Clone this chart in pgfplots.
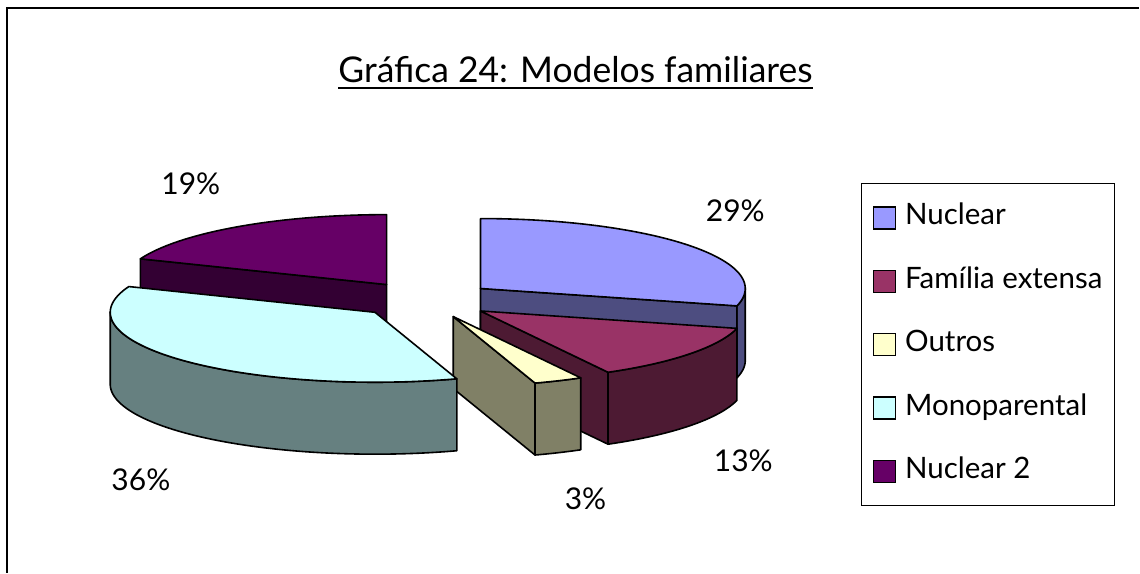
\documentclass[border=0pt]{standalone}
\usepackage{fontspec}
\setmainfont{Lato}
\usepackage{pgfplots}
\pgfplotsset{compat=1.18}

\definecolor{cNuc}{HTML}{9999FF}
\definecolor{cNucS}{HTML}{4D4D80}
\definecolor{cFam}{HTML}{993366}
\definecolor{cFamS}{HTML}{4D1A33}
\definecolor{cOut}{HTML}{FFFFCC}
\definecolor{cOutS}{HTML}{808066}
\definecolor{cMon}{HTML}{CCFFFF}
\definecolor{cMonS}{HTML}{668080}
\definecolor{cNdos}{HTML}{660066}
\definecolor{cNdosS}{HTML}{330033}

% data (percent)
\def\vNuc{29}\def\vFam{13}\def\vOut{3}\def\vMon{36}\def\vNdos{19}

% pie geometry (pixels)
\def\CX{426}\def\CY{300}\def\RR{265}\def\rr{70}\def\EX{69.5}\def\HH{72}

\pgfmathsetmacro{\aA}{0}
\pgfmathsetmacro{\aB}{\aA+3.6*\vNuc}
\pgfmathsetmacro{\aC}{\aB+3.6*\vFam}
\pgfmathsetmacro{\aD}{\aC+3.6*\vOut}
\pgfmathsetmacro{\aE}{\aD+3.6*\vMon}
\pgfmathsetmacro{\aF}{\aE+3.6*\vNdos}

\newcommand{\slicecenter}[4]{%
  \pgfmathsetmacro#3{\CX+\EX*sin((#1+#2)/2)}%
  \pgfmathsetmacro#4{\CY-\EX*\rr/\RR*cos((#1+#2)/2)}}

\slicecenter{\aA}{\aB}{\xA}{\yA}
\slicecenter{\aB}{\aC}{\xB}{\yB}
\slicecenter{\aC}{\aD}{\xC}{\yC}
\slicecenter{\aD}{\aE}{\xD}{\yD}
\slicecenter{\aE}{\aF}{\xE}{\yE}

\newcommand{\topface}[5]{%
\addplot[forget plot, fill=#5, draw=black, line width=1.6pt, line join=round, domain=0:1.1, samples=111]
 ({#1 + (x<1 ? \RR*sin(#3+(#4-#3)*x) : \RR*sin(#4)*(1-(x-1)*10))},
  {#2 - (x<1 ? \rr*cos(#3+(#4-#3)*x) : \rr*cos(#4)*(1-(x-1)*10))}) -- cycle;}

\newcommand{\sideface}[5]{%
\addplot[forget plot, fill=#5, draw=black, line width=1.6pt, line join=round, domain=0:2.1, samples=211]
 ({#1 + \RR*sin( x<1 ? #3+(#4-#3)*x : (x<1.1 ? #4 : #4-(#4-#3)*(x-1.1)) )},
  {#2 - \rr*cos( x<1 ? #3+(#4-#3)*x : (x<1.1 ? #4 : #4-(#4-#3)*(x-1.1)) ) + (x<1 ? 0 : (x<1.1 ? \HH*(x-1)*10 : \HH))}) -- cycle;}

\newcommand{\radface}[4]{%
\addplot[forget plot, fill=#4, draw=black, line width=1.6pt, line join=round, domain=0:3, samples=4]
 ({#1 + (x>0.5)*(x<2.5)*\RR*sin(#3)},
  {#2 - (x>0.5)*(x<2.5)*\rr*cos(#3) + (x>1.5)*\HH}) -- cycle;}

\begin{document}
\begin{tikzpicture}
\begin{axis}[
  width=1140pt, height=573pt, scale only axis,
  xmin=0, xmax=1140, ymin=0, ymax=573, y dir=reverse,
  enlargelimits=false, hide axis, clip=false,
  legend image code/.code={\draw[#1, line width=1.4pt] (0pt,-11pt) rectangle (22pt,11pt);},
  legend style={at={(axis cs:862,183.5)}, anchor=north west, draw=black, line width=1pt,
    font=\fontsize{29.5}{34}\selectfont, inner xsep=11pt, inner ysep=19pt,
    row sep=33.5pt, column sep=8pt,
    nodes={inner sep=1pt, text height=21pt, text depth=7pt},
    cells={anchor=west}},
]
\path (axis cs:0,0) rectangle (axis cs:1140,573);
% outer frame
\draw[line width=2pt] (axis cs:7,573) -- (axis cs:7,8) -- (axis cs:1140,8);

% Nuclear 2 (back)
\radface{\xE}{\yE}{\aE}{cNdosS}
\topface{\xE}{\yE}{\aE}{\aF}{cNdos}
% Nuclear
\sideface{\xA}{\yA}{90}{\aB}{cNucS}
\radface{\xA}{\yA}{\aB}{cNucS}
\topface{\xA}{\yA}{\aA}{\aB}{cNuc}
% Familia extensa
\sideface{\xB}{\yB}{\aB}{\aC}{cFamS}
\radface{\xB}{\yB}{\aC}{cFamS}
\topface{\xB}{\yB}{\aB}{\aC}{cFam}
% Outros
\sideface{\xC}{\yC}{\aC}{\aD}{cOutS}
\radface{\xC}{\yC}{\aD}{cOutS}
\topface{\xC}{\yC}{\aC}{\aD}{cOut}
% Monoparental
\sideface{\xD}{\yD}{\aD}{270}{cMonS}
\topface{\xD}{\yD}{\aD}{\aE}{cMon}

% labels
\begin{scope}[font=\fontsize{30}{34}\selectfont]
\node at (axis cs:736,211) {29\%};
\node at (axis cs:744,461) {13\%};
\node at (axis cs:586,499) {3\%};
\node at (axis cs:141,480) {36\%};
\node at (axis cs:191,184) {19\%};
\end{scope}

% title
\node[anchor=base, inner sep=0pt, font=\fontsize{35.5}{40}\selectfont] (T) at (axis cs:576,83) {Gráfica 24: Modelos familiares};
\draw[line width=2.4pt] ([yshift=-5pt]T.base west) -- ([yshift=-5pt]T.base east);

\addlegendimage{fill=cNuc, draw=black}\addlegendentry{Nuclear}
\addlegendimage{fill=cFam, draw=black}\addlegendentry{Família extensa}
\addlegendimage{fill=cOut, draw=black}\addlegendentry{Outros}
\addlegendimage{fill=cMon, draw=black}\addlegendentry{Monoparental}
\addlegendimage{fill=cNdos, draw=black}\addlegendentry{Nuclear 2}
\end{axis}
\end{tikzpicture}
\end{document}
